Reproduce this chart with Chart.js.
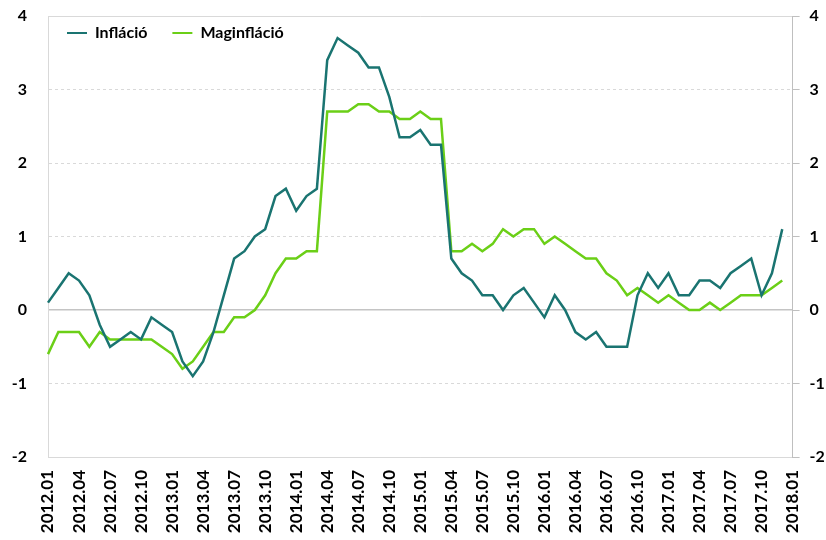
<!DOCTYPE html>
<html>
<head>
<meta charset="utf-8">
<script src="https://cdn.jsdelivr.net/npm/chart.js@4"></script>
<style>
  body { margin: 0; background: #fff; }
</style>
</head>
<body>
<canvas id="chart" width="826" height="540"></canvas>
<script>
// havi adatok, 2012.01 - 2018.01
const months = [
  '2012.01','2012.02','2012.03','2012.04','2012.05','2012.06','2012.07','2012.08','2012.09','2012.10','2012.11','2012.12',
  '2013.01','2013.02','2013.03','2013.04','2013.05','2013.06','2013.07','2013.08','2013.09','2013.10','2013.11','2013.12',
  '2014.01','2014.02','2014.03','2014.04','2014.05','2014.06','2014.07','2014.08','2014.09','2014.10','2014.11','2014.12',
  '2015.01','2015.02','2015.03','2015.04','2015.05','2015.06','2015.07','2015.08','2015.09','2015.10','2015.11','2015.12',
  '2016.01','2016.02','2016.03','2016.04','2016.05','2016.06','2016.07','2016.08','2016.09','2016.10','2016.11','2016.12',
  '2017.01','2017.02','2017.03','2017.04','2017.05','2017.06','2017.07','2017.08','2017.09','2017.10','2017.11','2017.12',
  '2018.01'
];

const inflacio = [
  0.1, 0.3, 0.5, 0.4, 0.2, -0.2, -0.5, -0.4, -0.3, -0.4, -0.1, -0.2,
  -0.3, -0.7, -0.9, -0.7, -0.3, 0.2, 0.7, 0.8, 1.0, 1.1, 1.55, 1.65,
  1.35, 1.55, 1.65, 3.4, 3.7, 3.6, 3.5, 3.3, 3.3, 2.9, 2.35, 2.35,
  2.45, 2.25, 2.25, 0.7, 0.5, 0.4, 0.2, 0.2, 0.0, 0.2, 0.3, 0.1,
  -0.1, 0.2, 0.0, -0.3, -0.4, -0.3, -0.5, -0.5, -0.5, 0.2, 0.5, 0.3,
  0.5, 0.2, 0.2, 0.4, 0.4, 0.3, 0.5, 0.6, 0.7, 0.2, 0.5, 1.1
];

const maginflacio = [
  -0.6, -0.3, -0.3, -0.3, -0.5, -0.3, -0.4, -0.4, -0.4, -0.4, -0.4, -0.5,
  -0.6, -0.8, -0.7, -0.5, -0.3, -0.3, -0.1, -0.1, 0.0, 0.2, 0.5, 0.7,
  0.7, 0.8, 0.8, 2.7, 2.7, 2.7, 2.8, 2.8, 2.7, 2.7, 2.6, 2.6,
  2.7, 2.6, 2.6, 0.8, 0.8, 0.9, 0.8, 0.9, 1.1, 1.0, 1.1, 1.1,
  0.9, 1.0, 0.9, 0.8, 0.7, 0.7, 0.5, 0.4, 0.2, 0.3, 0.2, 0.1,
  0.2, 0.1, 0.0, 0.0, 0.1, 0.0, 0.1, 0.2, 0.2, 0.2, 0.3, 0.4
];

const yMin = -2;
const yMax = 4;

const teal = '#1a7471';
const green = '#6bcf17';
const font = 'Lato';

// legenda a rajzterületen belül, egy sorban
const legendFix = {
  id: 'legendFix',
  afterInit(chart) {
    chart.legend.isHorizontal = () => true;
  },
  afterLayout(chart) {
    chart.legend.left = chart.chartArea.left - 6;
    chart.legend.top = chart.chartArea.top - 16;
  }
};

const gridDash = (ctx) => (ctx.tick && ctx.tick.value !== 0 && ctx.tick.value !== yMin && ctx.tick.value !== yMax) ? [3, 3] : [];

new Chart(document.getElementById('chart'), {
  type: 'line',
  data: {
    labels: months,
    datasets: [{
      label: 'Infláció',
      data: inflacio,
      borderColor: teal,
      backgroundColor: teal,
      borderWidth: 2.5,
      pointRadius: 0,
      tension: 0
    }, {
      label: 'Maginfláció',
      data: maginflacio,
      borderColor: green,
      backgroundColor: green,
      borderWidth: 2.5,
      pointRadius: 0,
      tension: 0
    }]
  },
  options: {
    responsive: false,
    animation: false,
    layout: { padding: { top: 16 } },
    plugins: {
      tooltip: { enabled: false },
      legend: {
        position: 'chartArea',
        fullSize: false,
        align: 'start',
        labels: {
          boxWidth: 20,
          boxHeight: 2,
          padding: 25,
          color: '#000',
          font: { family: font, size: 16, weight: 'bold' },
          generateLabels(chart) {
            return Chart.defaults.plugins.legend.labels.generateLabels(chart)
              .map(l => ({ ...l, lineWidth: 0 }));
          }
        }
      }
    },
    scales: {
      x: {
        offset: false,
        afterFit(s) { s.height = 83; },
        grid: { display: false, drawTicks: false },
        border: { display: true, color: '#d9d9d9' },
        ticks: {
          autoSkip: false,
          minRotation: 90,
          maxRotation: 90,
          padding: 13,
          color: '#000',
          font: { family: font, size: 17, weight: 'bold' },
          callback(v, i) { return i % 3 === 0 ? months[i] : ''; }
        }
      },
      y: {
        position: 'left',
        min: yMin,
        max: yMax,
        afterFit(s) { s.width = 48; s.paddingTop = 0; s.paddingBottom = 0; },
        grid: {
          drawTicks: false,
          color: (ctx) => ctx.tick && ctx.tick.value === 0 ? '#c4c4c4' : '#d9d9d9',
          lineWidth: (ctx) => ctx.tick && ctx.tick.value === 0 ? 1.5 : 1
        },
        border: { display: true, color: '#d9d9d9', dash: gridDash },
        ticks: {
          stepSize: 1,
          padding: 21,
          color: '#000',
          font: { family: font, size: 16, weight: 'bold' }
        }
      },
      y2: {
        position: 'right',
        min: yMin,
        max: yMax,
        afterFit(s) { s.width = 32; s.paddingTop = 0; s.paddingBottom = 0; },
        grid: { drawOnChartArea: false, drawTicks: true, tickLength: 7, color: '#bfbfbf' },
        border: { display: true, color: '#bfbfbf' },
        ticks: {
          stepSize: 1,
          padding: 10,
          color: '#000',
          font: { family: font, size: 16, weight: 'bold' }
        }
      }
    }
  },
  plugins: [legendFix]
});
</script>
</body>
</html>
